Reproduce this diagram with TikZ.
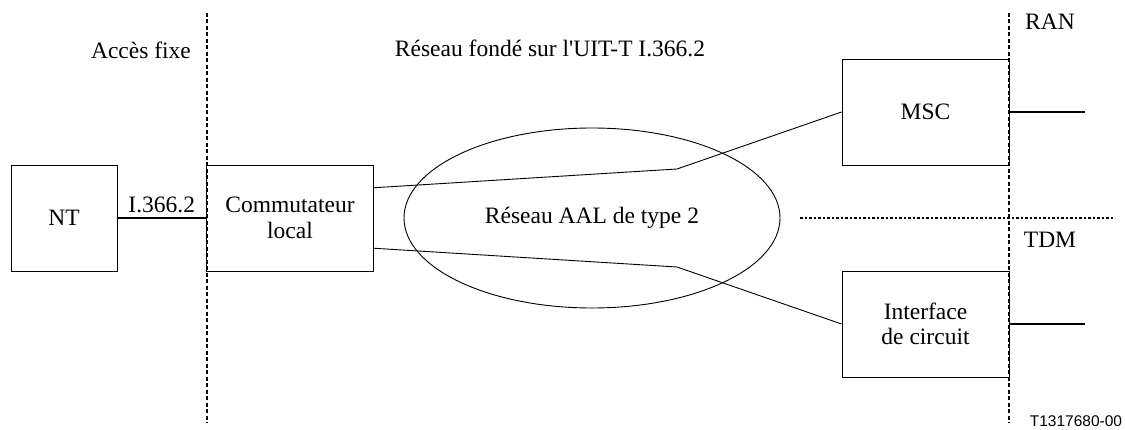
\documentclass[tikz,border=0pt]{standalone}
\usepackage{fontspec}
\setmainfont{Liberation Serif}
\newfontfamily\labelsans{Liberation Sans}
\usetikzlibrary{shapes.geometric,calc}
\tikzset{
  box/.style={draw, line width=0.9pt, rectangle, inner sep=0pt, minimum width=106pt, minimum height=106pt, align=center, font=\fontsize{23.5}{26.5}\selectfont},
  wbox/.style={box, minimum width=167pt},
  lbl/.style={inner sep=0pt, font=\fontsize{23.5}{26.5}\selectfont},
  bound/.style={line width=1.2pt, dash pattern=on 4pt off 2.5pt},
  split/.style={line width=1.2pt, dash pattern=on 2.5pt off 2pt},
  conn/.style={line width=0.9pt},
  link/.style={line width=1.6pt}
}
\begin{document}
\begin{tikzpicture}[x=1pt,y=-1pt]
\useasboundingbox (0,0) rectangle (1125,430);
% boundaries
\coordinate (lt) at (207,13);
\coordinate (lb) at (207,423);
\coordinate (rt) at (1009,13);
\coordinate (rb) at (1009,423);
\coordinate (hl) at (800,218);
\coordinate (hr) at (1115,218);
\draw[bound] (lt) -- (lb);
\draw[bound] (rt) -- (rb);
\draw[split] (hl) -- (hr);
% nodes
\node[box] (nt) at (64,218) {NT};
\node[wbox] (comm) at (290,218) {Commutateur\\[-1pt]local};
\node[wbox] (msc) at (925.5,112) {MSC};
\node[wbox] (intf) at (925.5,324) {Interface\\[-1pt]de circuit};
\node[draw, ellipse, line width=0.9pt, minimum width=376pt, minimum height=180pt, inner sep=0pt, font=\fontsize{23.5}{26.5}\selectfont] (aal) at (592,218) {Réseau AAL de type 2};
% labels
\node[lbl] (acc) at (141,50) {Accès fixe};
\node[lbl] (res) at (550,48) {Réseau fondé sur l\textquotesingle UIT-T I.366.2};
\node[lbl] (ran) at (1050,22) {RAN};
\node[lbl] (tdm) at (1050,240) {TDM};
\node[inner sep=0pt, font=\labelsans\fontsize{15.5}{17}\selectfont] (ref) at (1076,421) {T1317680-00};
% links
\draw[link] (nt.east) -- node[above=4pt, inner sep=0pt, font=\fontsize{23.5}{26.5}\selectfont] (ilbl) {I.366.2} (comm.west);
\coordinate (bu) at (677,169);
\coordinate (bl) at (677,267);
\draw[conn] ($(comm.north east)!0.217!(comm.south east)$) -- (bu) -- (msc.west);
\draw[conn] ($(comm.north east)!0.783!(comm.south east)$) -- (bl) -- (intf.west);
\coordinate (o1) at (1085,112);
\coordinate (o2) at (1085,324);
\draw[link] (msc.east) -- (o1);
\draw[link] (intf.east) -- (o2);
\end{tikzpicture}
\end{document}
